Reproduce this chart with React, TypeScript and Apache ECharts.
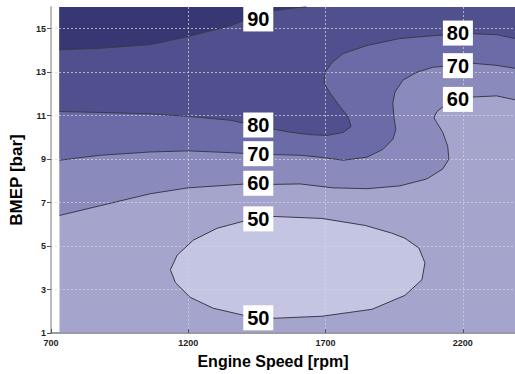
import React, { useEffect, useRef } from "react";
import * as echarts from "echarts";

// Axis ranges
const xMin = 700;
const xMax = 2390;
const xStep = 500;
const yMin = 1;
const yMax = 16;
const yStep = 2;

// Extent of the measured map
const dataLeft = 731;
const dataRight = 2390;

// Contour lines [rpm, bar]
const line90 = [
  [731, 14.03], [880, 14.1], [1062, 14.27], [1200, 14.64], [1353, 15.14], [1400, 15.36],
  [1444, 15.55], [1509, 15.82], [1580, 15.95], [1630, 16],
];
const line80 = [
  [731, 11.19], [880, 11.15], [1062, 11.08], [1200, 10.97], [1353, 10.79], [1444, 10.55],
  [1564, 10.25], [1640, 10.13], [1705, 10.09], [1764, 10.23], [1793, 10.5], [1782, 10.95],
  [1753, 11.41], [1716, 12.05], [1695, 12.5], [1698, 13.0], [1724, 13.45], [1764, 13.86],
  [1851, 14.23], [1971, 14.55], [2091, 14.68], [2182, 14.75], [2236, 14.77], [2323, 14.73],
  [2390, 14.55],
];
const line70 = [
  [731, 8.95], [880, 9.18], [1062, 9.33], [1200, 9.38], [1353, 9.3], [1444, 9.23],
  [1607, 9.18], [1680, 9.09], [1764, 8.95], [1851, 9.09], [1909, 9.45], [1945, 9.91],
  [1956, 10.36], [1949, 10.95], [1945, 11.59], [1953, 12.09], [1982, 12.64], [2033, 13.0],
  [2091, 13.23], [2135, 13.27], [2236, 13.41], [2320, 13.32], [2390, 13.18],
];
const line60 = [
  [731, 6.41], [880, 6.86], [1062, 7.41], [1200, 7.68], [1400, 7.85], [1516, 7.84],
  [1607, 7.86], [1727, 7.68], [1851, 7.64], [1971, 7.77], [2069, 8.09], [2127, 8.55],
  [2149, 9.0], [2145, 9.59], [2127, 10.23], [2105, 10.68], [2095, 10.91], [2105, 11.18],
  [2131, 11.45], [2182, 11.7], [2236, 11.86], [2323, 11.91], [2390, 11.73],
];
const loop50 = [
  [1135, 3.91], [1160, 4.59], [1218, 5.27], [1305, 5.82], [1400, 6.14], [1455, 6.32],
  [1516, 6.36], [1687, 6.27], [1844, 5.95], [1940, 5.6], [1989, 5.36], [2040, 4.91],
  [2062, 4.23], [2051, 3.45], [1989, 2.73], [1869, 2.09], [1687, 1.77], [1516, 1.68],
  [1400, 1.82], [1291, 2.14], [1207, 2.64], [1153, 3.32],
];

// Contour labels [rpm, bar, level]
const contourLabels = [
  [1455, 15.45, 90],
  [1455, 10.57, 80],
  [1455, 9.25, 70],
  [1455, 7.89, 60],
  [1455, 6.25, 50],
  [1455, 1.7, 50],
  [2182, 14.8, 80],
  [2182, 13.3, 70],
  [2182, 11.75, 60],
];

// Band fill colours: 50-60, <50, 60-70, 70-80, 80-90, >90
const bandColors = ["#a4a4cc", "#c4c4e3", "#8a8abd", "#6b6ba7", "#50508f", "#373773"];
const lineColor = "#3a3a48";
const FONT = "'Liberation Sans', Arial, Helvetica, sans-serif";

const bandPolygons = [
  [[dataLeft, yMin], [dataRight, yMin], [dataRight, yMax], [dataLeft, yMax]],
  loop50,
  [...line60, [dataRight, yMax], [dataLeft, yMax]],
  [...line70, [dataRight, yMax], [dataLeft, yMax]],
  [...line80, [dataRight, yMax], [dataLeft, yMax]],
  [...line90, [dataLeft, yMax]],
];
const contourLines = [line90, line80, line70, line60, loop50];
const closedFlags = [false, false, false, false, true];

export default function App() {
  const ref = useRef<HTMLDivElement>(null);
  useEffect(() => {
    document.body.style.margin = "0";
    if (!ref.current) return;
    const chart = echarts.init(ref.current, null, { renderer: "svg" });
    chart.setOption({
      animation: false,
      backgroundColor: "#ffffff",
      grid: { left: 50, right: 0, top: 7, bottom: 38 },
      xAxis: {
        type: "value",
        min: xMin,
        max: xMax,
        interval: xStep,
        z: 3,
        name: "Engine Speed [rpm]",
        nameLocation: "middle",
        nameGap: 20,
        nameTextStyle: {
          fontFamily: FONT, fontSize: 16, fontWeight: "bold", color: "#000",
          padding: [0, 20, 0, 0],
        },
        axisLine: { show: true, lineStyle: { color: "#9a9aa8", width: 2 } },
        axisTick: { show: true, inside: true, length: 4, lineStyle: { color: "#555" } },
        axisLabel: {
          fontFamily: FONT, fontSize: 9, fontWeight: "bold", color: "#222",
          margin: 5, showMaxLabel: false,
          formatter: (v: number) => String(v),
        },
        splitLine: {
          show: true, showMaxLine: false,
          lineStyle: { color: "#d4d4dc", width: 1, type: [2, 2], opacity: 0.75 },
        },
      },
      yAxis: {
        type: "value",
        min: yMin,
        max: yMax,
        interval: yStep,
        z: 3,
        name: "BMEP [bar]",
        nameLocation: "middle",
        nameGap: 26,
        nameTextStyle: {
          fontFamily: FONT, fontSize: 17, fontWeight: "bold", color: "#000",
          padding: [0, 20, 0, 0],
        },
        axisLine: { show: true, lineStyle: { color: "#a8a8a8", width: 1.5 } },
        axisTick: { show: true, inside: false, length: 4, lineStyle: { color: "#555" } },
        axisLabel: {
          fontFamily: FONT, fontSize: 9, fontWeight: "bold", color: "#222",
          margin: 5, showMaxLabel: false,
          formatter: (v: number) => String(v),
        },
        splitLine: {
          show: true, showMaxLine: false, showMinLine: false,
          lineStyle: { color: "#d4d4dc", width: 1, type: [2, 2], opacity: 0.75 },
        },
      },
      series: [
        {
          type: "custom",
          z: 1,
          silent: true,
          data: bandPolygons.map((_, i) => [i]),
          renderItem: (params: any, api: any) => {
            const i = api.value(0);
            const pts = bandPolygons[i].map((p) => api.coord(p));
            return {
              type: "polygon",
              shape: { points: pts },
              style: { fill: bandColors[i], stroke: null },
            };
          },
        },
        {
          type: "custom",
          z: 4,
          silent: true,
          data: contourLines.map((_, i) => [i]),
          renderItem: (params: any, api: any) => {
            const i = api.value(0);
            const pts = contourLines[i].map((p) => api.coord(p));
            return {
              type: closedFlags[i] ? "polygon" : "polyline",
              shape: { points: pts },
              style: { fill: null, stroke: lineColor, lineWidth: 1 },
            };
          },
        },
        {
          type: "scatter",
          z: 6,
          silent: true,
          symbol: "rect",
          symbolSize: [30, 25],
          itemStyle: { color: "#ffffff", opacity: 1 },
          data: contourLabels,
          label: {
            show: true,
            position: "inside",
            formatter: (p: any) => String(p.value[2]),
            color: "#000",
            fontFamily: FONT,
            fontSize: 20,
            fontWeight: "bold",
          },
        },
      ],
    });
    return () => chart.dispose();
  }, []);
  return <div ref={ref} style={{ width: 515, height: 374 }} />;
}
